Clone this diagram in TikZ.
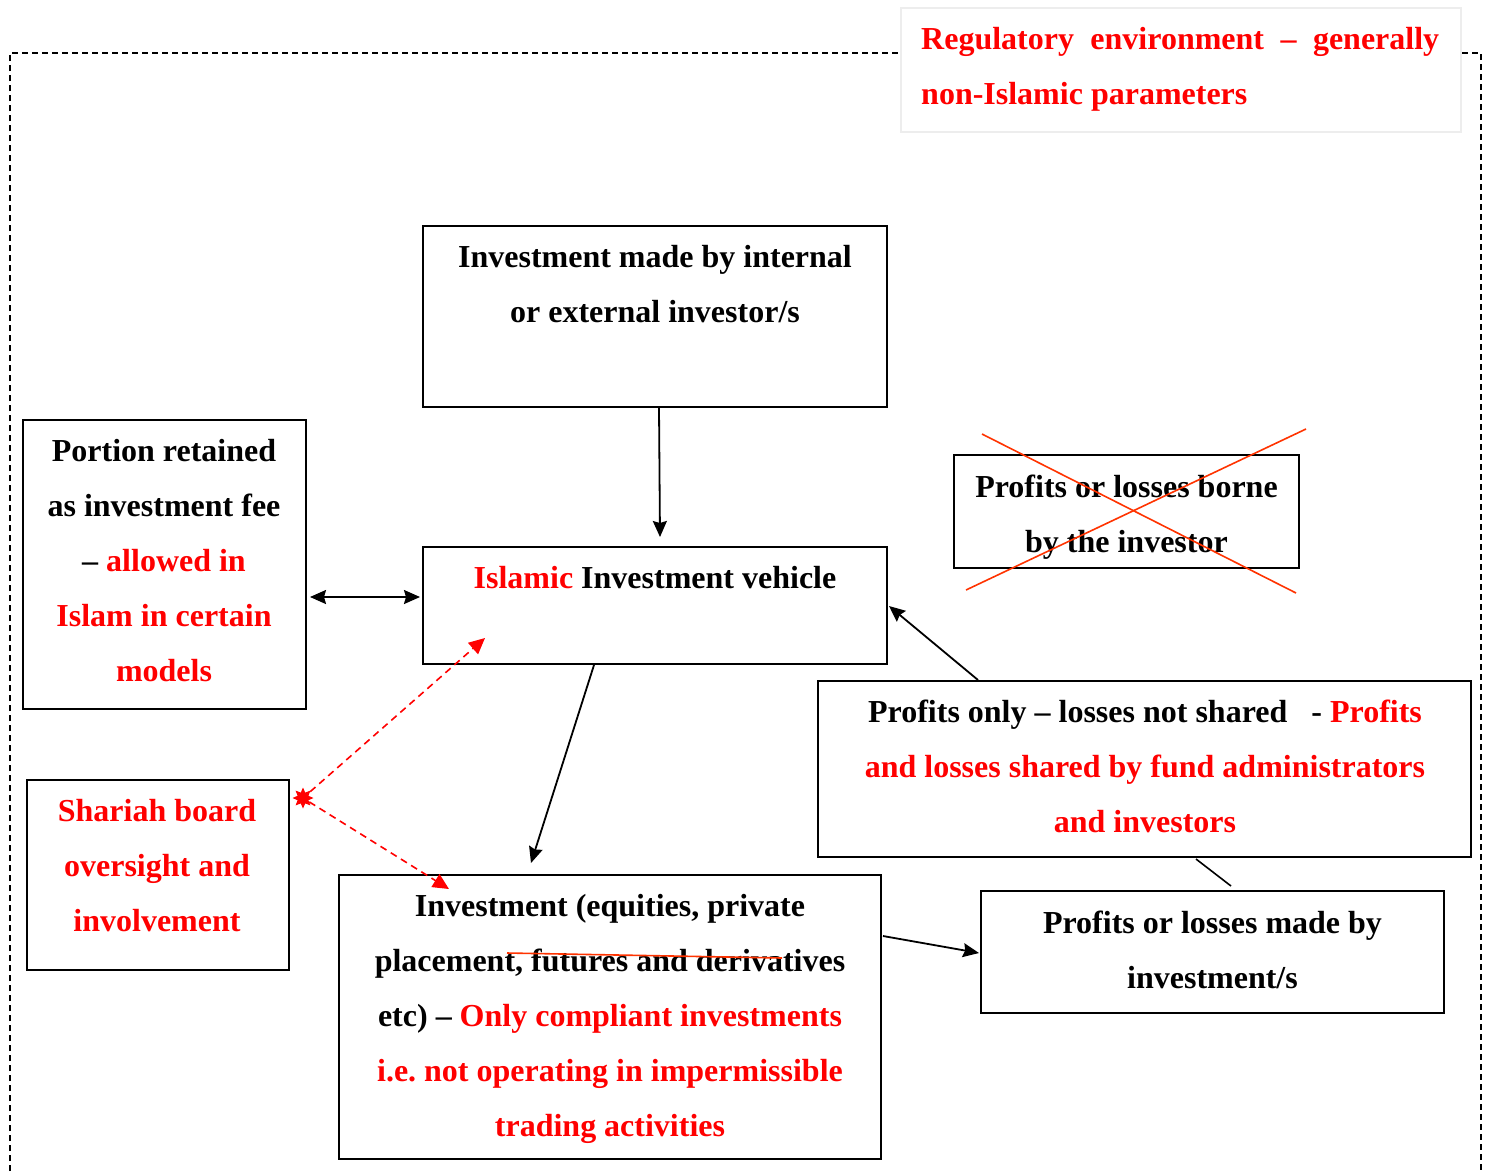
\documentclass[tikz,border=0pt]{standalone}
\usepackage{fontspec}
\setmainfont{Liberation Serif}
\usetikzlibrary{arrows.meta,shapes.geometric}
\definecolor{strike}{HTML}{FF3300}
\frenchspacing
\tikzset{
  box/.style={draw, line width=2pt, inner sep=0pt},
  txt/.style={inner sep=0pt, align=center, anchor=north,
    font=\fontsize{32}{55}\selectfont\bfseries},
  arr/.style={line width=1.8pt, -{Stealth[length=16pt,width=14pt,inset=2pt]}},
  dblarr/.style={line width=1.8pt, {Stealth[length=16pt,width=14pt,inset=2pt]}-{Stealth[length=16pt,width=14pt,inset=2pt]}},
  redarr/.style={red, line width=1.6pt, dash pattern=on 7pt off 5pt,
    -{Triangle[length=16pt,width=15pt]}},
  cross/.style={strike, line width=1.6pt},
  frame/.style={line width=1.4pt, dash pattern=on 6pt off 4pt}
}
\begin{document}
\begin{tikzpicture}[x=1pt,y=-1pt]
\useasboundingbox (0,0) rectangle (1491,1171);

% outer regulatory frame
\draw[frame] (10,1171) -- (10,53) -- (1481,53) -- (1481,1171);

% caption box of the frame
\node[draw=black!7, line width=1.2pt, fill=white, minimum width=560pt, minimum height=124pt, inner sep=0pt] (lab) at (1181,70) {};
\node[inner sep=0pt, align=left, anchor=north west, text=red,
  font=\fontsize{32}{55}\selectfont\bfseries] (tlab) at (921,27)
  {\makebox[518pt][s]{Regulatory environment – generally}\\non-Islamic parameters};

% boxes
\node[box, minimum width=464pt, minimum height=181pt] (A) at (655,316.5) {};
\node[box, minimum width=283pt, minimum height=289pt] (B) at (164.5,564.5) {};
\node[box, minimum width=464pt, minimum height=117pt] (C) at (655,605.5) {};
\node[box, minimum width=345pt, minimum height=113pt] (D) at (1126.5,511.5) {};
\node[box, minimum width=653pt, minimum height=176pt] (E) at (1144.5,769) {};
\node[box, minimum width=262pt, minimum height=190pt] (F) at (158,875) {};
\node[box, minimum width=542pt, minimum height=284pt] (G) at (610,1017) {};
\node[box, minimum width=463pt, minimum height=122pt] (H) at (1212.5,952) {};

% box texts
\node[txt] (tA) at (655,245) {Investment made by internal\\or external investor/s};
\node[txt] (tB) at (164,439) {Portion retained\\as investment fee\\– \textcolor{red}{allowed in}\\\textcolor{red}{Islam in certain}\\\textcolor{red}{models}};
\node[txt] (tC) at (655,566) {\textcolor{red}{Islamic} Investment vehicle};
\node[txt] (tD) at (1126.5,475) {Profits or losses borne\\by the investor};
\node[txt] (tE) at (1145,700) {Profits only – losses not shared\ \ \ - \textcolor{red}{Profits}\\\textcolor{red}{and losses shared by fund administrators}\\\textcolor{red}{and investors}};
\node[txt, text=red] (tF) at (157,799) {Shariah board\\oversight and\\involvement};
\node[txt] (tG) at (610,894) {Investment (equities, private\\placement, futures and derivatives\\etc) – \textcolor{red}{Only compliant investments}\\\textcolor{red}{i.e. not operating in impermissible}\\\textcolor{red}{trading activities}};
\node[txt] (tH) at (1212.5,911) {Profits or losses made by\\investment/s};

% crossed-out box and struck-through words
\draw[cross] ([shift={(29,-20)}]D.north west) -- ([shift={(-4,24)}]D.south east);
\draw[cross] ([shift={(13,21)}]D.south west) -- ([shift={(6,-25)}]D.north east);
\draw[cross] ([shift={(169,79)}]G.north west) -- ([shift={(444,84)}]G.north west);

% connectors
\draw[arr] ([xshift=4pt]A.south) -- ([shift={(5,-9)}]C.north);
\draw[dblarr] ([shift={(3,32.5)}]B.east) -- ([shift={(-2,-8.5)}]C.west);
\draw[arr] ([xshift=-61pt]C.south) -- ([shift={(-79,-11)}]G.north);
\draw[arr] ([xshift=-166.5pt]E.north) -- ([shift={(1,0.5)}]C.east);
\draw[arr] ([shift={(1,-81)}]G.east) -- ([shift={(-1,1)}]H.west);
\draw[line width=1.6pt] ([shift={(51.5,1)}]E.south) -- ([shift={(18.5,-4)}]H.north);

% Shariah board oversight
\node[star, star points=8, star point ratio=1.8, fill=red, inner sep=0pt, minimum size=21pt] (burst) at (303,798) {};
\draw[redarr] (burst) -- ([shift={(63,-27)}]C.south west);
\draw[redarr] (burst) -- ([shift={(111,15)}]G.north west);
\end{tikzpicture}
\end{document}
